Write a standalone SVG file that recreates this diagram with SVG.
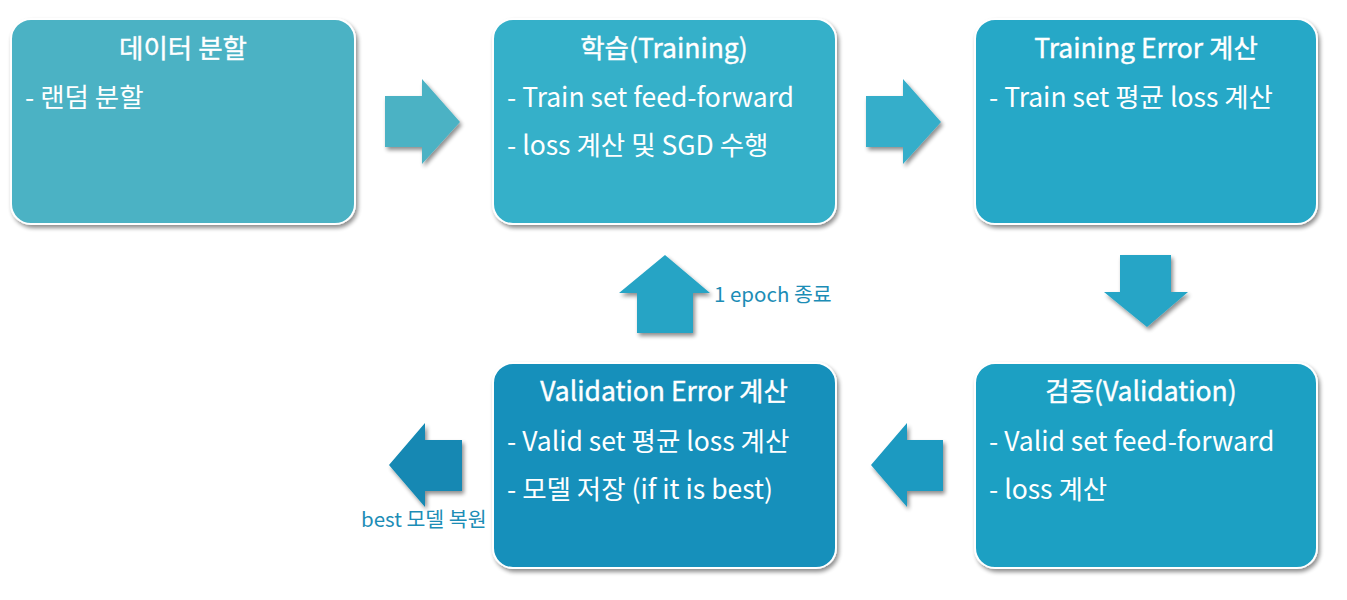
<svg xmlns="http://www.w3.org/2000/svg" width="1347" height="600" viewBox="0 0 1347 600">
<defs>
<filter id="sh" x="-10%" y="-10%" width="125%" height="130%">
<feGaussianBlur in="SourceAlpha" stdDeviation="2"/>
<feOffset dx="2" dy="3" result="b"/>
<feComponentTransfer><feFuncA type="linear" slope="0.45"/></feComponentTransfer>
<feMerge><feMergeNode/><feMergeNode in="SourceGraphic"/></feMerge>
</filter>
</defs>
<style>
.box{stroke:#ffffff;stroke-width:2;filter:url(#sh)}
.arr{filter:url(#sh)}
.t{font-family:"Noto Sans CJK KR","Noto Sans",sans-serif;fill:#ffffff;font-size:26.5px;text-anchor:middle;stroke:#ffffff;stroke-width:0.4}
.b{font-family:"Noto Sans CJK KR","Noto Sans",sans-serif;fill:#ffffff;font-size:26.5px}
.lbl{font-family:"Noto Sans CJK KR","Noto Sans",sans-serif;fill:#1C8DB6;font-size:20.5px}
</style>
<rect width="1347" height="600" fill="#ffffff"/>
<g id="n1">
<rect class="box" x="11" y="19" width="344" height="205" rx="20" fill="#4BB2C4"/>
<text class="t" x="183" y="58">데이터 분할</text>
<text class="b" x="25" y="107">- 랜덤 분할</text>
</g>
<g id="n2">
<rect class="box" x="493" y="19" width="343" height="205" rx="20" fill="#36B0C9"/>
<text class="t" x="664" y="58">학습(Training)</text>
<text class="b" x="507" y="107">- Train set feed-forward</text>
<text class="b" x="507" y="155">- loss 계산 및 SGD 수행</text>
</g>
<g id="n3">
<rect class="box" x="975" y="19" width="342" height="205" rx="20" fill="#27A8C7"/>
<text class="t" x="1146" y="58">Training Error 계산</text>
<text class="b" x="989" y="107">- Train set 평균 loss 계산</text>
</g>
<g id="n4">
<rect class="box" x="975" y="363" width="342" height="205" rx="20" fill="#1EA0C3"/>
<text class="t" x="1141" y="401">검증(Validation)</text>
<text class="b" x="989" y="451">- Valid set feed-forward</text>
<text class="b" x="989" y="499">- loss 계산</text>
</g>
<g id="n5">
<rect class="box" x="493" y="363" width="343" height="205" rx="20" fill="#1590BB"/>
<text class="t" x="664" y="401">Validation Error 계산</text>
<text class="b" x="507" y="451">- Valid set 평균 loss 계산</text>
<text class="b" x="507" y="499">- 모델 저장 (if it is best)</text>
</g>
<g id="connectors">
<polygon class="arr" fill="#4BB2C4" points="385,96 422,96 422,79 460,122 422,164 422,147 385,147"/>
<polygon class="arr" fill="#34AECA" points="866,96 903,96 903,79 941,122 903,164 903,147 866,147"/>
<polygon class="arr" fill="#25A5C6" points="1120,255 1171,255 1171,292 1188,292 1147,327 1104,292 1120,292"/>
<polygon class="arr" fill="#25A4C5" points="665,255 710,293 693,293 693,333 637,333 637,293 619,293"/>
<polygon class="arr" fill="#1E9AC1" points="871,465 907,423 907,440 943,440 943,491 907,491 907,507"/>
<polygon class="arr" fill="#1288B3" points="389,465 425,423 425,440 462,440 462,491 425,491 425,507"/>
<text class="lbl" x="714" y="302">1 epoch 종료</text>
<text class="lbl" x="361" y="527">best 모델 복원</text>
</g>
</svg>
